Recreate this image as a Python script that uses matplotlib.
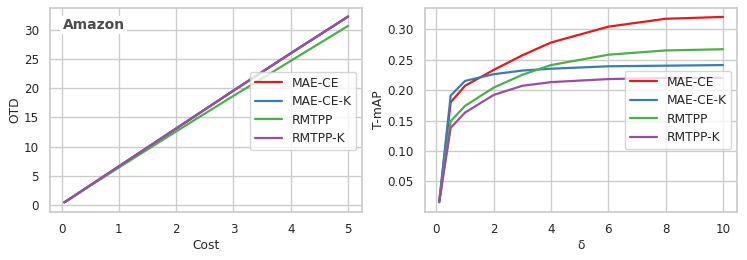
import matplotlib
matplotlib.use("Agg")
import matplotlib.pyplot as plt
import seaborn as sns

sns.set_theme(style="whitegrid")
plt.rcParams["font.family"] = ["DejaVu Sans"]

methods = ["MAE-CE", "MAE-CE-K", "RMTPP", "RMTPP-K"]
colors = sns.color_palette("Set1", 5)
method_colors = [colors[0], colors[1], colors[2], colors[3]]

# left panel: OTD vs cost
cost = [0.05, 0.1, 0.2, 0.5, 1, 2, 3, 4, 5]
otd = {
    "MAE-CE": [0.45, 0.75, 1.4, 3.35, 6.6, 13.1, 19.6, 26.0, 32.3],
    "MAE-CE-K": [0.45, 0.75, 1.4, 3.35, 6.6, 13.1, 19.6, 26.0, 32.3],
    "RMTPP": [0.45, 0.75, 1.4, 3.3, 6.4, 12.6, 18.7, 24.7, 30.7],
    "RMTPP-K": [0.45, 0.75, 1.4, 3.35, 6.6, 13.1, 19.6, 26.0, 32.3],
}

# right panel: T-mAP vs delta
delta = [0.1, 0.5, 1, 2, 3, 4, 6, 8, 10]
tmap = {
    "MAE-CE": [0.017, 0.180, 0.207, 0.233, 0.257, 0.278, 0.304, 0.317, 0.320],
    "MAE-CE-K": [0.017, 0.191, 0.215, 0.226, 0.232, 0.235, 0.239, 0.240, 0.241],
    "RMTPP": [0.016, 0.149, 0.174, 0.204, 0.225, 0.241, 0.258, 0.265, 0.267],
    "RMTPP-K": [0.016, 0.138, 0.163, 0.192, 0.207, 0.213, 0.218, 0.220, 0.220],
}

fig, axes = plt.subplots(1, 2, figsize=(7.47, 2.6), dpi=100)
fs = 8.6
lfs = 8.8

ax = axes[0]
for m, c in zip(methods, method_colors):
    ax.plot(cost, otd[m], color=c, lw=1.6, label=m)
ax.set_xlabel("Cost", fontsize=lfs, labelpad=2)
ax.set_ylabel("OTD", fontsize=lfs, labelpad=2)
ax.set_xticks([0, 1, 2, 3, 4, 5])
ax.set_yticks([0, 5, 10, 15, 20, 25, 30])
ax.set_xlim(-0.2, 5.25)
ax.set_ylim(-1.2, 33.8)
ax.text(0.04, 0.95, "Amazon", transform=ax.transAxes, fontsize=10, fontweight="bold",
        color="#4d4d4d", va="top", ha="left",
        bbox=dict(facecolor="white", edgecolor="none", pad=1.5))
ax.legend(loc="center right", fontsize=lfs, bbox_to_anchor=(1.0, 0.495),
          handlelength=2.2, labelspacing=0.45)

ax = axes[1]
for m, c in zip(methods, method_colors):
    ax.plot(delta, tmap[m], color=c, lw=1.6, label=m)
ax.set_xlabel("δ", fontsize=lfs, labelpad=2)
ax.set_ylabel("T-mAP", fontsize=lfs, labelpad=2)
ax.set_xticks([0, 2, 4, 6, 8, 10])
ax.set_yticks([0.05, 0.10, 0.15, 0.20, 0.25, 0.30])
ax.set_xlim(-0.4, 10.5)
ax.set_ylim(0.0, 0.335)
ax.legend(loc="center right", fontsize=lfs, bbox_to_anchor=(1.0, 0.5),
          handlelength=2.2, labelspacing=0.45)

for ax in axes:
    ax.tick_params(labelsize=fs, pad=2)
    for s in ax.spines.values():
        s.set_edgecolor("#cccccc")

fig.subplots_adjust(left=0.067, right=0.987, bottom=0.185, top=0.97, wspace=0.2)
fig.savefig("out.png", dpi=100)
